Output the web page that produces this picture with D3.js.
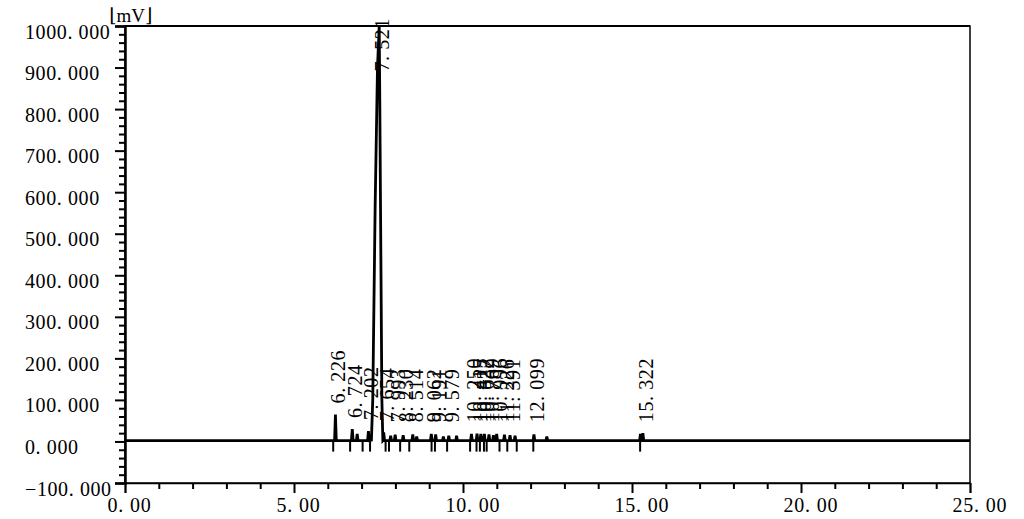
<!DOCTYPE html>
<html><head><meta charset="utf-8">
<script src="https://cdn.jsdelivr.net/npm/d3@7"></script>
<style>
html,body{margin:0;padding:0;background:#fff;}
svg{display:block;}
text{font-family:"Liberation Serif","DejaVu Serif",serif;fill:#000;white-space:pre;}
</style>
</head><body>
<svg id="c" width="1024" height="519"></svg>
<script>
// ---------- data ----------
const xDomain = [0, 25];
const yDomain = [-100, 1000];
const xMajorTicks = [0, 5, 10, 15, 20, 25];
const xTickLabels = ["0. 00", "5. 00", "10. 00", "15. 00", "20. 00", "25. 00"];
const yMajorTicks = [-100, 0, 100, 200, 300, 400, 500, 600, 700, 800, 900, 1000];
const yTickLabels = ["\u2212100. 000", "0. 000", "100. 000", "200. 000", "300. 000", "400. 000",
                     "500. 000", "600. 000", "700. 000", "800. 000", "900. 000", "1000. 000"];
const yUnitLabel = "\u230AmV\u230B";
const baselineLevel = 2;

// labelled peaks (retention time, height in mV)
const peakTimes   = [6.226, 6.724, 7.202, 7.654, 7.993, 8.230, 8.514, 9.062, 9.191, 9.579,
                     10.250, 10.415, 10.527, 10.632, 10.769, 10.996, 11.226, 11.391, 12.099, 15.322];
const peakHeights = [65, 30, 25, 22, 16, 15, 17, 18, 17, 14,
                     18, 19, 18, 18, 17, 18, 16, 15, 17, 20];
const peakLabels  = ["6. 226", "6. 724", "7. 202", "7. 654", "7. 993", "8. 230", "8. 514", "9. 062", "9. 191", "9. 579",
                     "10. 250", "10. 415", "10. 527", "10. 632", "10. 769", "10. 996", "11. 226", "11. 391", "12. 099", "15. 322"];

// main peak (label + explicit shape points)
const mainPeakLabel = "7. 521";
const mainPeakTime = 7.521;
const mainPeakTrace = [[7.29, 3], [7.33, 100], [7.40, 560], [7.47, 900], [7.521, 1000],
                       [7.54, 800], [7.56, 560], [7.60, 100], [7.65, 4]];

// small unlabelled peaks
const minorPeakTimes   = [6.87, 7.86, 8.63, 9.42, 9.81, 10.90, 11.54, 12.48, 15.25];
const minorPeakHeights = [18, 14, 12, 12, 14, 15, 14, 12, 18];

// integration event markers (below the baseline)
const markerTimes = [6.16, 6.66, 7.03, 7.25, 7.71, 7.81, 8.14, 8.41, 9.07, 9.17, 9.53,
                     10.21, 10.40, 10.50, 10.62, 10.70, 11.08, 11.31, 11.59, 12.08, 15.24];

// ---------- drawing ----------
const plot = {left: 125, right: 970, top: 26, bottom: 483};
const svg = d3.select("#c");
const x = d3.scaleLinear(xDomain, [plot.left, plot.right]);
const y = d3.scaleLinear(yDomain, [plot.bottom, plot.top]);

svg.append("defs").append("clipPath").attr("id", "clip")
  .append("rect").attr("x", plot.left).attr("y", plot.top - 1)
  .attr("width", plot.right - plot.left).attr("height", plot.bottom - plot.top + 1);

// frame
svg.append("rect").attr("x", plot.left).attr("y", plot.top)
  .attr("width", plot.right - plot.left).attr("height", plot.bottom - plot.top)
  .attr("fill", "none").attr("stroke", "#000").attr("stroke-width", 1.5);
svg.append("line").attr("x1", plot.left).attr("x2", plot.right).attr("y1", plot.top).attr("y2", plot.top)
  .attr("stroke", "#000").attr("stroke-width", 2);

// y axis
const yMinor = d3.range(-100, 1001, 20).filter(v => v % 100 !== 0);
svg.append("g").attr("transform", `translate(${plot.left},0)`)
  .call(d3.axisLeft(y).tickValues(yMinor).tickSize(6).tickFormat(""))
  .call(g => g.select(".domain").remove())
  .call(g => g.selectAll("line").attr("stroke-width", 2));
const yAxis = svg.append("g").attr("transform", `translate(${plot.left},0)`)
  .call(d3.axisLeft(y).tickValues(yMajorTicks).tickSize(10).tickFormat((d, i) => yTickLabels[i]));
yAxis.select(".domain").attr("stroke-width", 2.5);
yAxis.selectAll("line").attr("stroke-width", 2);
yAxis.attr("font-family", null).attr("font-size", null);
yAxis.selectAll("text").attr("x", 25 - plot.left).attr("dy", "12px")
  .attr("text-anchor", "start").style("font-size", "20px").style("letter-spacing", "0.6px");

// x axis
const xMinor = d3.range(0, 26, 1).filter(v => v % 5 !== 0);
svg.append("g").attr("transform", `translate(0,${plot.bottom})`)
  .call(d3.axisBottom(x).tickValues(xMinor).tickSize(6).tickFormat(""))
  .call(g => g.select(".domain").remove())
  .call(g => g.selectAll("line").attr("stroke-width", 2));
const xAxis = svg.append("g").attr("transform", `translate(0,${plot.bottom})`)
  .call(d3.axisBottom(x).tickValues(xMajorTicks).tickSize(10).tickFormat((d, i) => xTickLabels[i]));
xAxis.select(".domain").attr("stroke-width", 1.5);
xAxis.selectAll("line").attr("stroke-width", 2);
xAxis.attr("font-family", null).attr("font-size", null);
xAxis.selectAll("text").attr("x", -18).attr("y", 15).attr("dy", "0.71em")
  .attr("text-anchor", "start").style("font-size", "20px").style("letter-spacing", "0.8px");

// unit label
svg.append("text").attr("x", 109).attr("y", 22).style("font-size", "19px").text(yUnitLabel);

// trace
const spikes = peakTimes.map((t, i) => [t, peakHeights[i]])
  .concat(minorPeakTimes.map((t, i) => [t, minorPeakHeights[i]]))
  .sort((a, b) => a[0] - b[0]);
const hw = 0.025;
let pts = [[xDomain[0], baselineLevel]].concat(mainPeakTrace);
spikes.forEach(([t, h]) => {
  pts.push([t - hw, baselineLevel], [t, h], [t + hw, baselineLevel]);
});
pts.push([xDomain[1], baselineLevel]);
pts.sort((a, b) => a[0] - b[0]);

svg.append("path").attr("clip-path", "url(#clip)")
  .attr("d", d3.line().x(d => x(d[0])).y(d => y(d[1]))(pts))
  .attr("fill", "none").attr("stroke", "#000").attr("stroke-width", 2.8)
  .attr("stroke-linejoin", "miter");

// event markers
svg.append("g").selectAll("line").data(markerTimes).join("line")
  .attr("x1", d => x(d)).attr("x2", d => x(d))
  .attr("y1", y(baselineLevel)).attr("y2", y(baselineLevel) + 11)
  .attr("stroke", "#000").attr("stroke-width", 2);

// peak labels
const labelData = peakTimes.map((t, i) => ({t, h: peakHeights[i], s: peakLabels[i]}));
labelData.push({t: mainPeakTime, h: 1000, s: mainPeakLabel});
const lg = svg.append("g");
labelData.forEach(d => {
  const tx = lg.append("text").style("font-size", "20px").style("letter-spacing", "0.6px")
    .attr("text-anchor", "start").text(d.s);
  const len = tx.node().getComputedTextLength();
  let bottom = y(Math.max(d.h, 20)) - 11;
  if (bottom - len < 18) bottom = 18 + len;
  tx.attr("transform", `translate(${x(d.t) + 10},${bottom}) rotate(-90)`);
});
</script>
</body></html>
